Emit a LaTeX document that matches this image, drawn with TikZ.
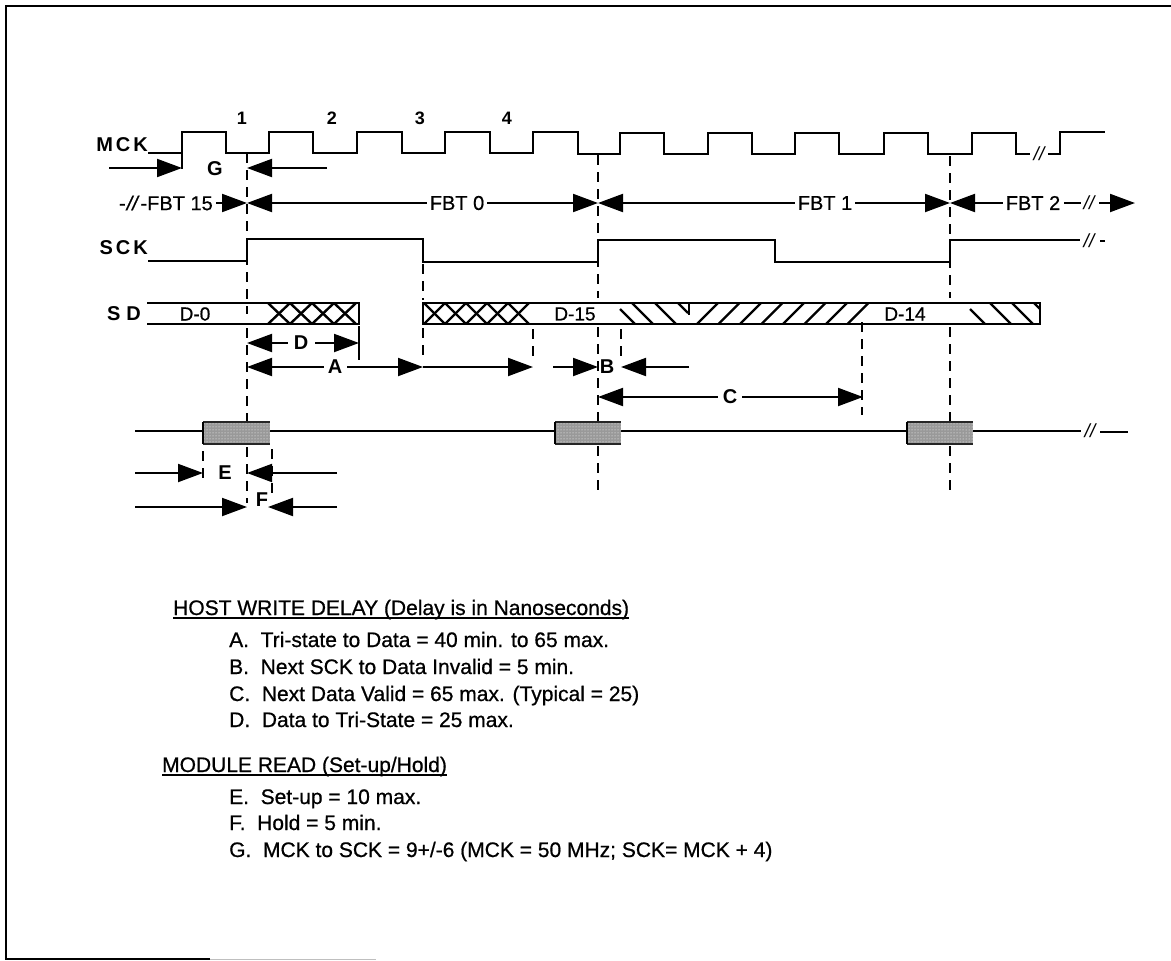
\documentclass[tikz,border=0pt]{standalone}
\usepackage{fontspec}
\setmainfont{Liberation Sans}
\newfontfamily\scanfont{Liberation Sans}[FakeBold=0.7]
\usetikzlibrary{arrows.meta,patterns}
\tikzset{
  x=1pt,y=-1pt,
  wave/.style={line width=2.5pt,line join=miter},
  ruler/.style={line width=2.6pt,dash pattern=on 10pt off 7pt},
  tick/.style={line width=2.4pt},
  dim/.style={line width=2pt},
  hatch/.style={line width=2.4pt},
  tip/.style={-{Triangle[length=25pt,width=18pt]},line width=2pt},
  lab/.style={font=\scanfont\fontsize{20}{20}\selectfont,inner sep=0pt},
  dat/.style={font=\scanfont\fontsize{19}{19}\selectfont,inner sep=0pt},
  blab/.style={font=\bfseries\fontsize{20}{20}\selectfont,inner sep=0pt},
  num/.style={font=\bfseries\fontsize{18}{18}\selectfont,inner sep=0pt},
  sig/.style={font=\bfseries\fontsize{20}{20}\selectfont,inner sep=0pt,anchor=east},
  txt/.style={font=\scanfont\fontsize{21}{21}\selectfont,inner sep=0pt,anchor=base west},
  brk/.style={font=\itshape\fontsize{19}{19}\selectfont,inner sep=0pt},
  ulin/.style={line width=2.2pt},
}
\begin{document}
\begin{tikzpicture}
\useasboundingbox (0,0) rectangle (1171,961);
\fill[white] (0,0) rectangle (1171,961);
\draw[line width=2.4pt] (1171,6) -- (6,6) -- (6,959) -- (210,959);
\draw[line width=1.6pt,black!25] (210,959.5) -- (376,959.5);

% --- ruler lines
\draw[ruler] (247,153) -- (247,300);
\draw[tick] (247,306) -- (247,314);
\draw[ruler] (247,328) -- (247,503);
\draw[ruler] (423,264) -- (423,300);
\draw[ruler] (423,328) -- (423,362);
\draw[ruler] (598,155) -- (598,298);
\draw[ruler] (598,327) -- (598,490);
\draw[ruler] (950,156) -- (950,298);
\draw[ruler] (950,327) -- (950,490);
\draw[ruler] (533,329) -- (533,362);
\draw[ruler] (621,329) -- (621,362);
\draw[ruler] (862,322) -- (862,415);
\draw[ruler] (203,451) -- (203,482);
\draw[ruler] (272,449) -- (272,497);
\draw[tick] (359,326) -- (359,360);
\draw[tick] (182,153) -- (182,169);

% --- signals
\node[sig] (mck) at (148,145) {M\kern3pt C\kern3pt K};
\node[sig] (sck) at (148,248) {S\kern3pt C\kern3pt K};
\node[sig] (sd) at (141,314) {S\kern6pt D};

\coordinate (mckend) at (1030,154);
\draw[wave] (148,153) -- (182,153) |- (226,132) |- (269,153) |- (313,132) |- (357,153)
  |- (402,132) |- (445,153) |- (490,132) |- (533,153) |- (578,132) |- (620,154)
  |- (664,133) |- (708,154) |- (752,133) |- (795,154) |- (839,133) |- (884,154)
  |- (928,133) |- (972,154) |- (1016,133) |- (mckend);
\draw[wave] (1048,154) -- (1060,154) |- (1105,132);
\node[brk] (b1) at (1039,154) {//};

\draw[wave] (148,261) -- (247,261) |- (423,239) |- (598,262) |- (775,240) |- (950,262) |- (1080,240);
\node[brk] (b2) at (1089,241) {//};
\draw[wave] (1100,241) -- (1105,241);

% --- SD bus
\foreach \xx in {268,290,...,337}{
  \draw[hatch] (\xx,303) -- (\xx+22,324);
  \draw[hatch] (\xx+22,303) -- (\xx,324);}
\foreach \xx in {424,445,...,510}{
  \draw[hatch] (\xx,303) -- (\xx+21,324);
  \draw[hatch] (\xx+21,303) -- (\xx,324);}
\draw[hatch] (620,309) -- (635,324);
\draw[hatch] (632,303) -- (653,324);
\draw[hatch] (655,303) -- (676,324);
\draw[hatch] (678,303) -- (688,313);
\draw[hatch] (689,303) -- (689,315);
\foreach \xx in {697,718.5,...,848}{
  \draw[hatch] (\xx,324) -- (\xx+21,303);}
\draw[hatch] (970,309) -- (985,324);
\draw[hatch] (990,303) -- (1011,324);
\draw[hatch] (1012,303) -- (1033,324);
\draw[hatch] (1034,303) -- (1040,309);
\draw[wave] (147,303) -- (359,303) -- (359,324) -- (147,324);
\draw[wave] (423,324) -- (423,303) -- (1040,303) -- (1040,324) -- cycle;
\node[dat] (d0) at (195,314) {D-0};
\node[dat] (d15) at (575,314) {D-15};
\node[dat] (d14) at (905,314) {D-14};

% --- numbers
\node[num] (n1) at (242,118) {1};
\node[num] (n2) at (332,118) {2};
\node[num] (n3) at (420,118) {3};
\node[num] (n4) at (507,118) {4};

% --- G
\coordinate (gl) at (109,168); \coordinate (gr) at (327,168);
\node[blab] (g) at (215,169) {G};
\draw[tip] (gl) -- (182,168);
\draw[tip] (gr) -- (247,168);

% --- FBT row
\node[lab,anchor=east] (f15) at (213,203) {-\kern1pt\textit{//}\kern1pt-FBT 15};
\node[lab] (f0) at (457,203) {FBT 0};
\node[lab] (f1) at (825,203) {FBT 1};
\node[lab] (f2) at (1033,203) {FBT 2};
\draw[tip] (f15.east) ++(3,0) -- (247,203);
\draw[tip] (f0.west) ++(-3,0) -- (247,203);
\draw[tip] (f0.east) ++(3,0) -- (598,203);
\draw[tip] (f1.west) ++(-3,0) -- (598,203);
\draw[tip] (f1.east) ++(3,0) -- (950,203);
\draw[tip] (f2.west) ++(-3,0) -- (950,203);
\node[brk] (b3) at (1089,203) {//};
\draw[dim] (f2.east) ++(4,0) -- (1081,203);
\draw[tip] (1099,203) -- (1135,203);

% --- D
\node[blab] (dd) at (301,343) {D};
\draw[tip] (dd.west) ++(-6,0) -- (247,343);
\draw[tip] (dd.east) ++(7,0) -- (359,343);

% --- A
\node[blab] (aa) at (335,367) {A};
\draw[tip] (aa.west) ++(-4,0) -- (247,367);
\draw[tip] (aa.east) ++(5,0) -- (423,367);
\draw[tip] (423,367) -- (533,367);

% --- B
\node[blab] (bb) at (607,367) {B};
\coordinate (bl) at (553,367); \coordinate (br) at (689,367);
\draw[tip] (bl) -- (598,367);
\draw[tip] (br) -- (621,367);

% --- C
\node[blab] (cc) at (730,397) {C};
\draw[tip] (cc.west) ++(-5,0) -- (598,397);
\draw[tip] (cc.east) ++(5,0) -- (863,397);

% --- bus line
\draw[wave] (135,431) -- (1081,431);
\node[brk] (b4) at (1090,431) {//};
\draw[wave] (1100,432) -- (1128,432);
\foreach \a/\b in {203/270,555/621,907/973}{
  \fill[white] (\a,422) rectangle (\b,444);
  \fill[black!40] (\a,422) rectangle (\b,444);
  \fill[pattern=dots,pattern color=white] (\a,422) rectangle (\b,444);
  \draw[line width=2pt,black!85] (\a,422) -- (\b,422);
  \draw[line width=2pt,black!85] (\a,444) -- (\b,444);
  \draw[line width=2.5pt,black] (\a,422) -- (\a,444);
}
\draw[ruler] (247,414) -- (247,420);
\draw[ruler] (598,414) -- (598,420);
\draw[ruler] (950,414) -- (950,420);

% --- E, F
\node[blab] (ee) at (225,473) {E};
\draw[tip] (135,473) -- (203,473);
\draw[tip] (337,473) -- (247,473);
\node[blab] (ff) at (262,500) {F};
\draw[tip] (135,507) -- (247,507);
\draw[tip] (337,507) -- (268,507);

% --- text
\node[txt] (t0) at (173,615) {HOST WRITE DELAY (Delay is in Nanoseconds)};
\draw[ulin] ([yshift=-3pt]t0.base west) -- ([yshift=-3pt]t0.base east);
\node[txt] (t1) at (229,647) {A.\ \ Tri-state to Data = 40 min. to 65 max.};
\node[txt] (t2) at (229,674) {B.\ \ Next SCK to Data Invalid = 5 min.};
\node[txt] (t3) at (229,701) {C.\ \ Next Data Valid = 65 max. (Typical = 25)};
\node[txt] (t4) at (229,727) {D.\ \ Data to Tri-State = 25 max.};
\node[txt] (t5) at (162,772) {MODULE READ (Set-up/Hold)};
\draw[ulin] ([yshift=-3pt]t5.base west) -- ([yshift=-3pt]t5.base east);
\node[txt] (t6) at (229,804) {E.\ \ Set-up = 10 max.};
\node[txt] (t7) at (229,830) {F.\ \ Hold = 5 min.};
\node[txt] (t8) at (229,857) {G.\ \ MCK to SCK = 9+/-6 (MCK = 50 MHz; SCK= MCK + 4)};
\end{tikzpicture}
\end{document}
